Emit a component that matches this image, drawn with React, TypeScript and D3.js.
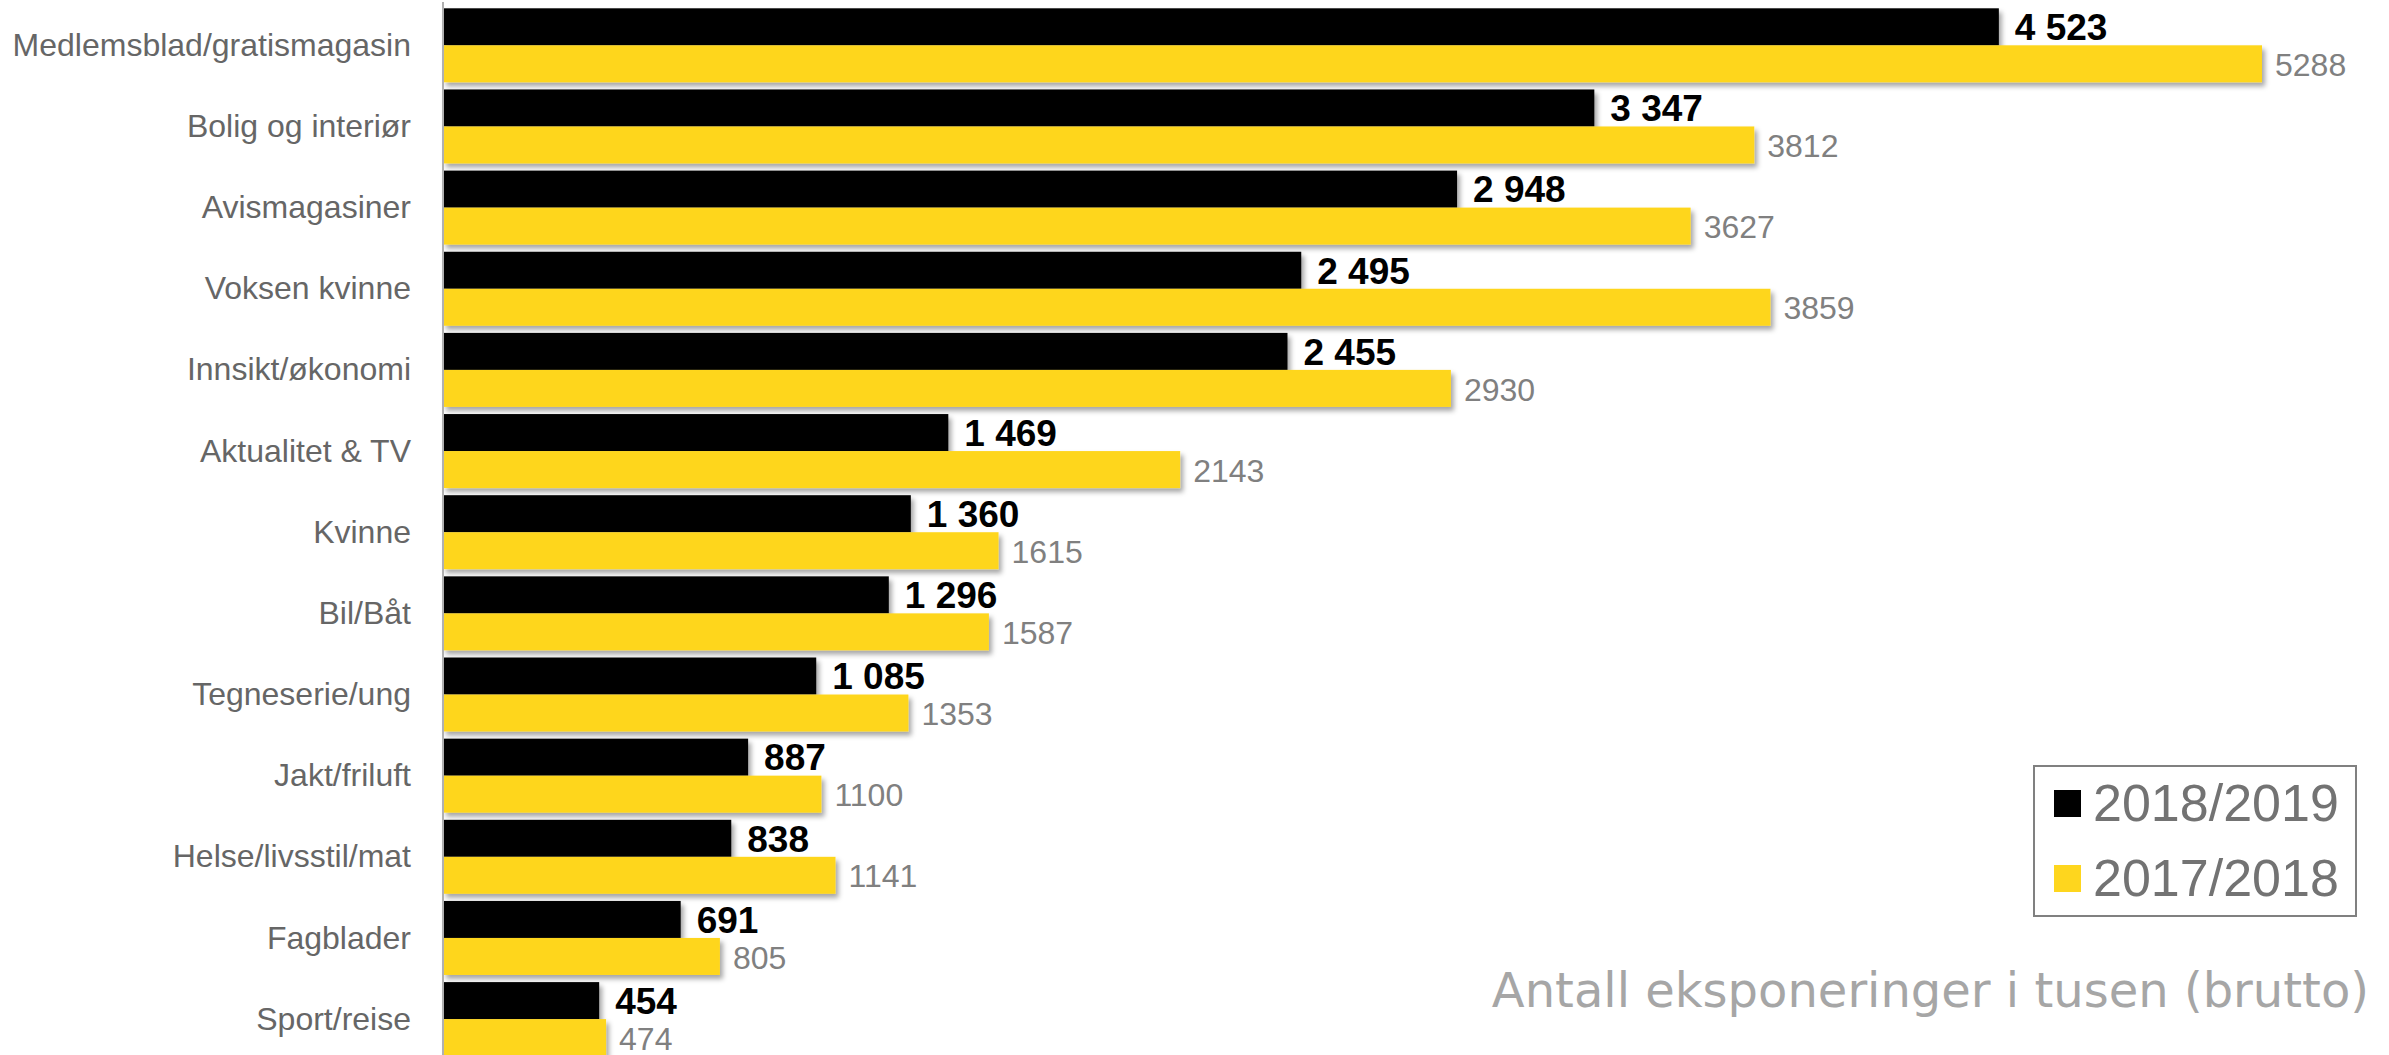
import React from 'react';
import * as d3 from 'd3';

const categories = [
  'Medlemsblad/gratismagasin',
  'Bolig og interiør',
  'Avismagasiner',
  'Voksen kvinne',
  'Innsikt/økonomi',
  'Aktualitet & TV',
  'Kvinne',
  'Bil/Båt',
  'Tegneserie/ung',
  'Jakt/friluft',
  'Helse/livsstil/mat',
  'Fagblader',
  'Sport/reise',
];

const seriesNames = ['2018/2019', '2017/2018'];
const values2018_2019 = [4523, 3347, 2948, 2495, 2455, 1469, 1360, 1296, 1085, 887, 838, 691, 454];
const values2017_2018 = [5288, 3812, 3627, 3859, 2930, 2143, 1615, 1587, 1353, 1100, 1141, 805, 474];

const axisTitle = 'Antall eksponeringer i tusen (brutto)';

const W = 2389;
const H = 1055;
const BLACK = '#000000';
const YELLOW = '#FED61E';
const FONT = "'Liberation Sans', Arial, sans-serif";

const nbFormat = d3.formatLocale({ decimal: ',', thousands: ' ', grouping: [3], currency: ['', ''] }).format(',d');

export default function App() {
  const step = 81.15;
  const pIn = 0.088;
  const top = 8.3 - step * pIn / 2;
  const y = d3.scaleBand<string>()
    .domain(categories)
    .range([top, top + categories.length * step])
    .paddingInner(pIn)
    .paddingOuter(pIn / 2);
  const ySub = d3.scaleBand<string>().domain(seriesNames).range([0, y.bandwidth()]);
  const x = d3.scaleLinear()
    .domain([0, d3.max(values2017_2018) as number])
    .range([443, 2262]);

  const rows = categories.map((c, i) => ({ cat: c, a: values2018_2019[i], b: values2017_2018[i] }));

  return (
    <svg width={W} height={H} style={{ position: 'absolute', left: 0, top: 0, background: '#fff' }}>
      <defs>
        <filter id="shadow" x="-5%" y="-30%" width="115%" height="180%">
          <feDropShadow dx="3" dy="4" stdDeviation="2.5" floodColor="#000" floodOpacity="0.35" />
        </filter>
      </defs>

      {rows.map(r => {
        const y0 = y(r.cat) as number;
        const yA = y0 + (ySub(seriesNames[0]) as number);
        const yB = y0 + (ySub(seriesNames[1]) as number);
        const bh = ySub.bandwidth();
        return (
          <g key={r.cat}>
            <text x={411} y={y0 + y.bandwidth() / 2} dy="0.33em" textAnchor="end"
              fontFamily={FONT} fontSize={32} fill="#666666">{r.cat}</text>
            <rect x={x(0)} y={yA} width={x(r.a) - x(0)} height={bh} fill={BLACK} filter="url(#shadow)" />
            <rect x={x(0)} y={yB} width={x(r.b) - x(0)} height={bh} fill={YELLOW} filter="url(#shadow)" />
            <text x={x(r.a) + 16} y={yA + bh / 2} dy="0.36em" fontFamily={FONT} fontWeight="bold"
              fontSize={37} fill="#000">{nbFormat(r.a)}</text>
            <text x={x(r.b) + 13} y={yB + bh / 2} dy="0.38em" fontFamily={FONT}
              fontSize={32} fill="#808080">{String(r.b)}</text>
          </g>
        );
      })}

      <line x1={x(0)} x2={x(0)} y1={2} y2={H} stroke="#b0b0b0" strokeWidth={2} />

      <g>
        <rect x={2034} y={766} width={322} height={150} fill="#fff" stroke="#808080" strokeWidth={2} />
        {seriesNames.map((s, i) => (
          <g key={s}>
            <rect x={2054} y={790 + i * 75} width={27} height={27} fill={i === 0 ? BLACK : YELLOW} />
            <text x={2093} y={821 + i * 75} fontFamily={FONT} fontSize={52} fill="#737373">{s}</text>
          </g>
        ))}
      </g>

      <text x={2369} y={1007} textAnchor="end" fontFamily="'DejaVu Sans', Verdana, sans-serif"
        fontSize={48} fill="#a6a6a6">{axisTitle}</text>
    </svg>
  );
}
